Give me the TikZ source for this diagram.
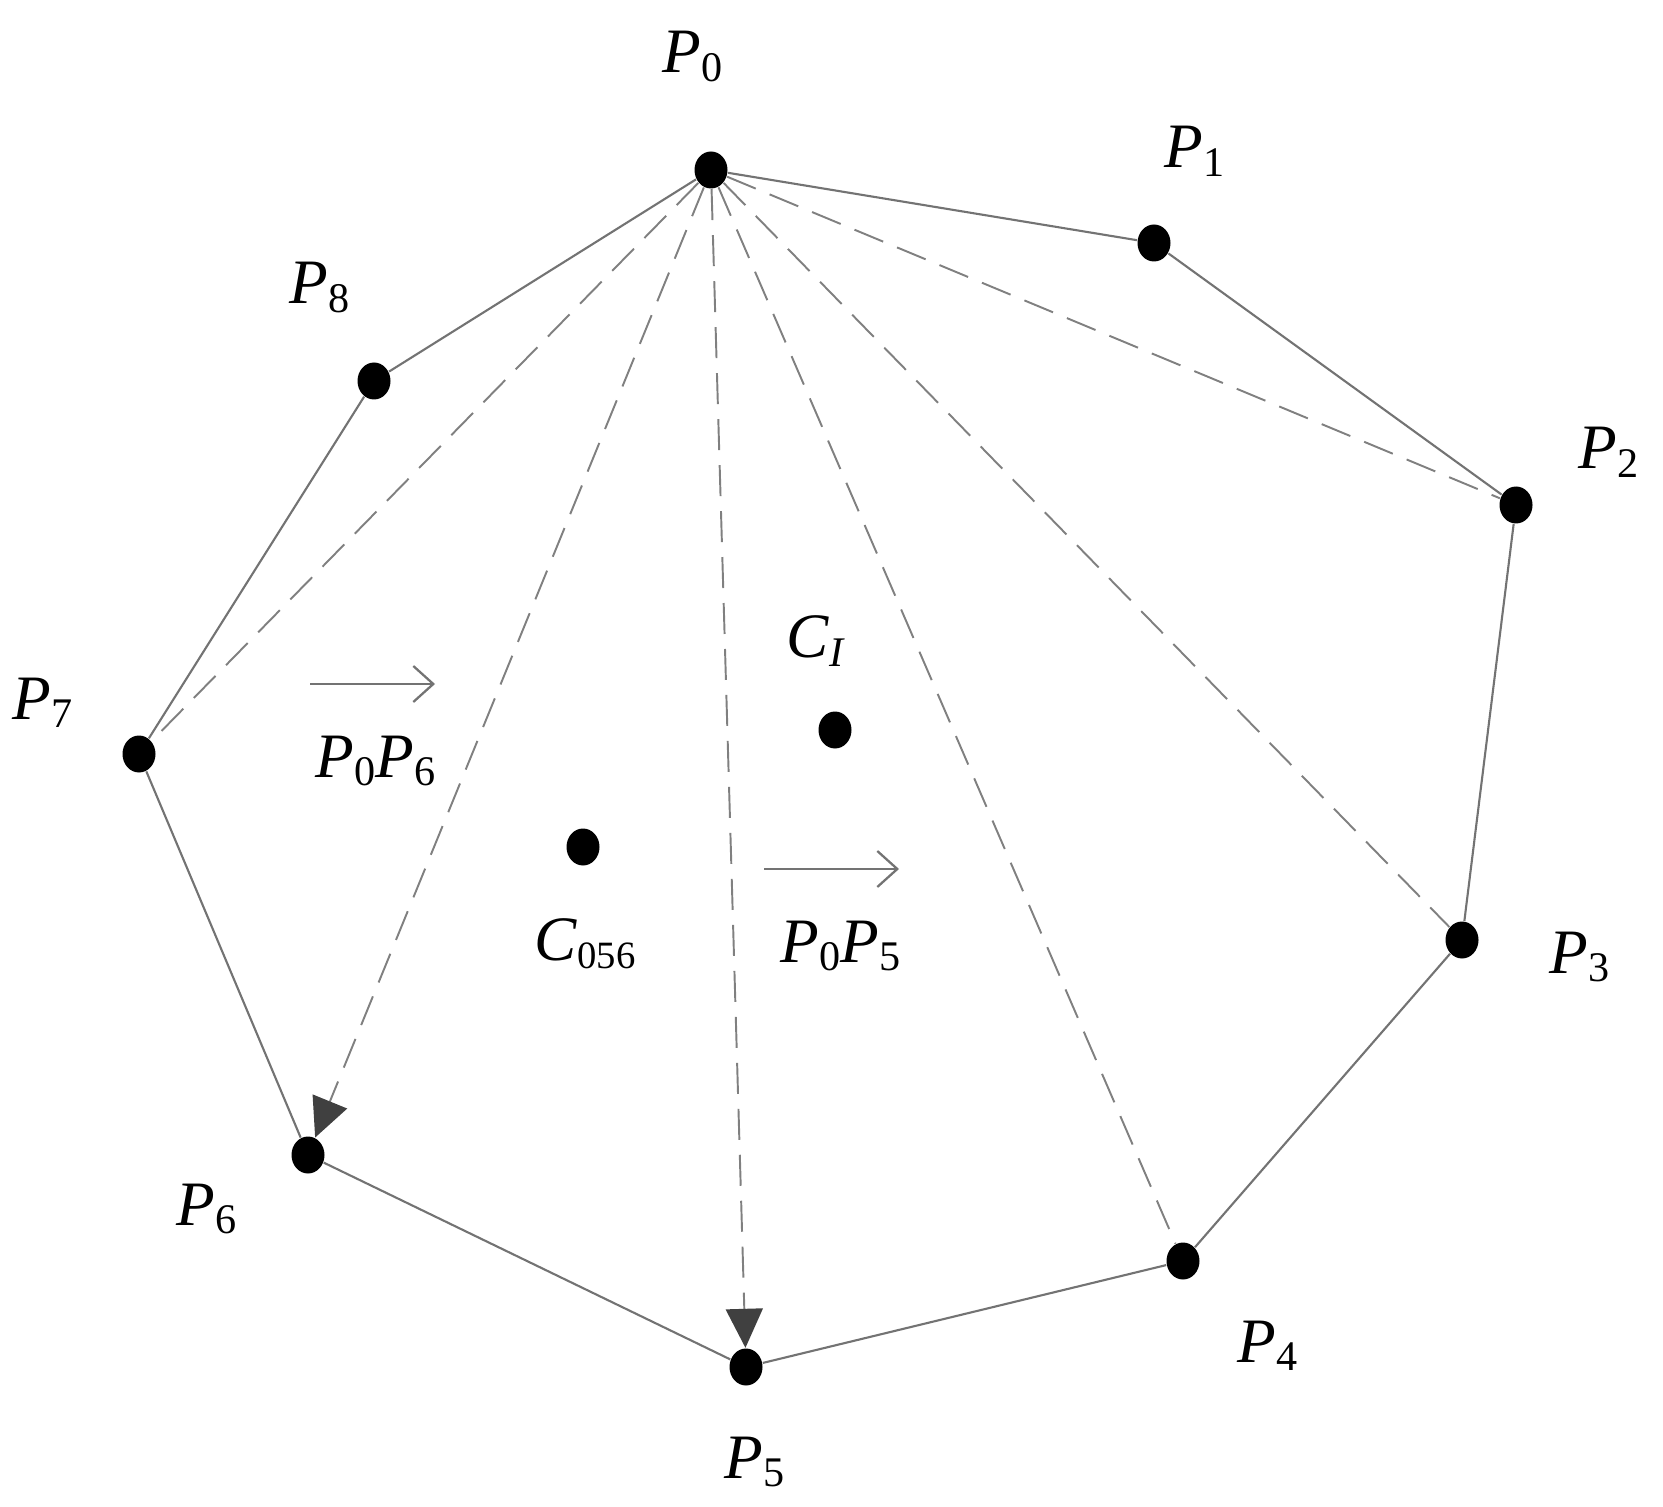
\documentclass[tikz,border=0pt]{standalone}
\usepackage{fontspec}
\setmainfont{Liberation Serif}
\usetikzlibrary{arrows.meta,shapes.geometric}

\newcommand{\lbl}[2]{\textit{#1}\raisebox{-2.3pt}{\fontsize{12}{12}\selectfont #2}}

\tikzset{
  pt/.style={ellipse,fill=black,inner sep=0pt,minimum width=0.33cm,minimum height=0.37cm},
  name text/.style={anchor=base west,inner sep=0pt,font=\fontsize{18}{20}\selectfont},
  edge/.style={black!55,line width=0.6pt},
  diag/.style={black!50,line width=0.55pt,dash pattern=on 0.31cm off 0.15cm},
  diag tip/.style={diag,-{Triangle[length=0.39cm,width=0.37cm,fill=black!75,color=black!75]}},
  vec/.style={black!55,line width=0.65pt,-{Straight Barb[length=0.2cm,width=0.36cm]}}
}

\begin{document}
\begin{tikzpicture}
  \useasboundingbox (0,0) rectangle (16.63,15.06);

  % Tracer les sommets
  \node[pt] (P0) at (7.11,13.36) {};
  \node[pt] (P1) at (11.54,12.63) {};
  \node[pt] (P2) at (15.16,10.01) {};
  \node[pt] (P3) at (14.62,5.66) {};
  \node[pt] (P4) at (11.83,2.45) {};
  \node[pt] (P5) at (7.46,1.39) {};
  \node[pt] (P6) at (3.08,3.51) {};
  \node[pt] (P7) at (1.39,7.52) {};
  \node[pt] (P8) at (3.74,11.25) {};

  % Centres
  \node[pt] (CI) at (8.35,7.76) {};
  \node[pt] (C056) at (5.83,6.59) {};

  % Tracer le contour
  \draw[edge] (P0) -- (P1);
  \draw[edge] (P1) -- (P2);
  \draw[edge] (P2) -- (P3);
  \draw[edge] (P3) -- (P4);
  \draw[edge] (P4) -- (P5);
  \draw[edge] (P5) -- (P6);
  \draw[edge] (P6) -- (P7);
  \draw[edge] (P7) -- (P8);
  \draw[edge] (P8) -- (P0);

  % Tracer les diagonales
  \draw[diag] (P0) -- (P2);
  \draw[diag] (P0) -- (P3);
  \draw[diag] (P0) -- (P4);
  \draw[diag tip] (P0) -- (P5);
  \draw[diag tip] (P0) -- (P6);
  \draw[diag] (P0) -- (P7);

  % Ajouter des labels
  \node[name text] (L0) at (6.62,14.33) {\lbl{P}{0}};
  \node[name text] (L1) at (11.64,13.38) {\lbl{P}{1}};
  \node[name text] (L2) at (15.78,10.37) {\lbl{P}{2}};
  \node[name text] (L3) at (15.49,5.33) {\lbl{P}{3}};
  \node[name text] (L4) at (12.37,1.44) {\lbl{P}{4}};
  \node[name text] (L5) at (7.24,0.28) {\lbl{P}{5}};
  \node[name text] (L6) at (1.76,2.81) {\lbl{P}{6}};
  \node[name text] (L7) at (0.12,7.87) {\lbl{P}{7}};
  \node[name text] (L8) at (2.89,12.02) {\lbl{P}{8}};
  \node[name text] (LCI) at (7.86,8.48) {\lbl{C}{\textit{I}}};
  \node[name text] (LC056) at (5.34,5.46) {\lbl{C}{\fontsize{11}{12}\selectfont 056}};

  % Vecteurs
  \coordinate (A6) at (3.10,8.22);
  \coordinate (B6) at (4.35,8.22);
  \draw[vec] (A6) -- (B6);
  \node[name text] (V6) at (3.15,7.29) {\lbl{P}{0}\lbl{P}{6}};

  \coordinate (A5) at (7.64,6.37);
  \coordinate (B5) at (8.99,6.37);
  \draw[vec] (A5) -- (B5);
  \node[name text] (V5) at (7.80,5.44) {\lbl{P}{0}\lbl{P}{5}};
\end{tikzpicture}
\end{document}
